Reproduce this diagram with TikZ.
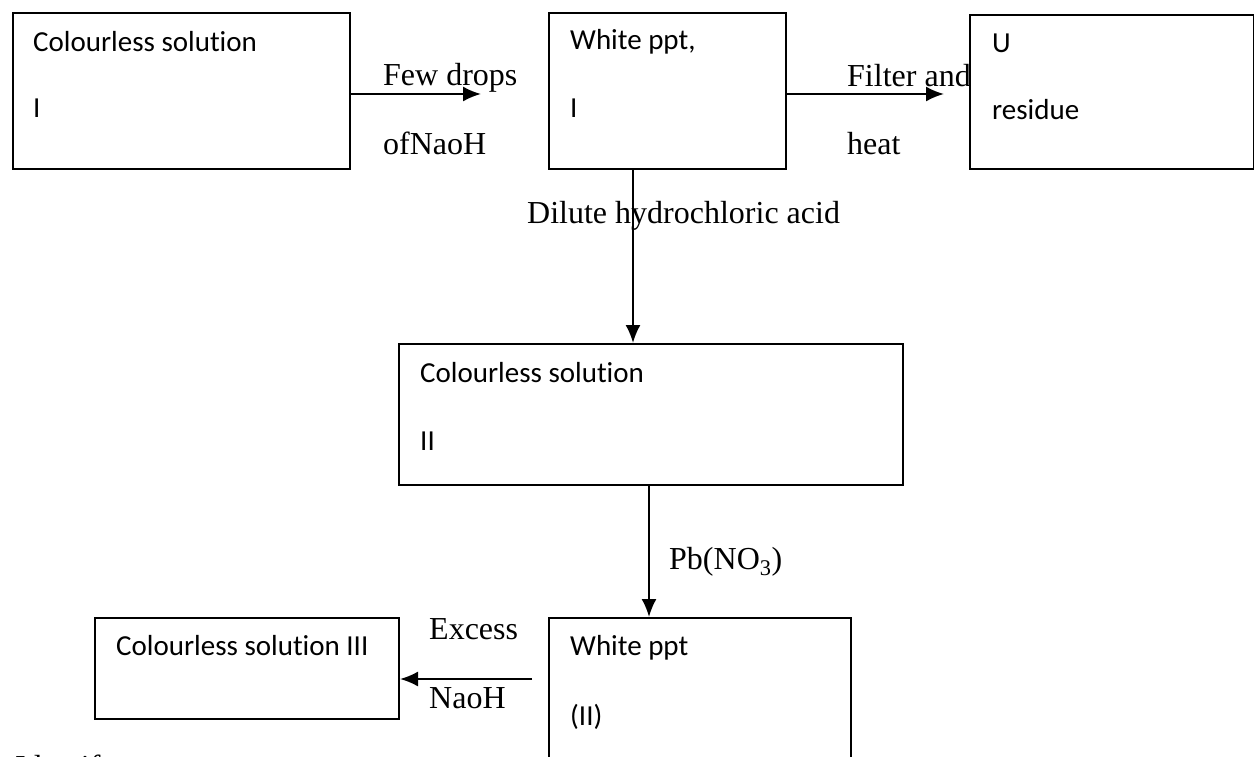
\documentclass[tikz,border=0pt]{standalone}
\usepackage{fontspec}
\setmainfont{Liberation Serif}
\newfontfamily\calib[Ligatures=NoCommon]{Carlito}
\usetikzlibrary{arrows.meta,positioning,calc}

\tikzset{
  stage/.style={draw,line width=2pt,inner sep=0pt,anchor=north west},
  stagetxt/.style={anchor=base west,inner sep=0pt,font=\calib\fontsize{29}{35}\selectfont},
  reagent/.style={anchor=base west,inner sep=0pt,font=\fontsize{32}{38}\selectfont},
  flow/.style={line width=2pt,-{Latex[length=18pt,width=15pt]}}
}

\begin{document}
\begin{tikzpicture}[x=1pt,y=-1pt]
\clip (0,0) rectangle (1254,757);

% boxes
\node [stage,minimum width=337pt,minimum height=156pt] (solA) at (12,12) {};
\node [stage,minimum width=237pt,minimum height=156pt] (pptA) at (548,12) {};
\node [stage,minimum width=284pt,minimum height=154pt] (resU) at (969,14) {};
\node [stage,minimum width=504pt,minimum height=141pt] (solB) at (398,343) {};
\node [stage,minimum width=302pt,minimum height=180pt] (pptB) at (548,617) {};
\node [stage,minimum width=304pt,minimum height=101pt] (solC) at (94,617) {};

% texts in the boxes
\node [stagetxt] (solA1) at (33,52) {Colourless solution};
\node [stagetxt] (solA2) at (33,118) {I};
\node [stagetxt] (pptA1) at (570,50) {White ppt,};
\node [stagetxt] (pptA2) at (570,118) {I};
\node [stagetxt] (resU1) at (992,53) {U};
\node [stagetxt] (resU2) at (992,120) {residue};
\node [stagetxt] (solB1) at (420,382) {Colourless solution};
\node [stagetxt] (solB2) at (420,450) {II};
\node [stagetxt] (pptB1) at (570,655) {White ppt};
\node [stagetxt] (pptB2) at (570,725) {(II)};
\node [stagetxt] (solC1) at (116,655) {Colourless solution III};

% reagents
\node [reagent] (few) at (383,86) {Few drops};
\node [reagent] (ofnaoh) at (383,155) {ofNaoH};
\node [reagent] (filter) at (847,87) {Filter and};
\node [reagent] (heat) at (847,155) {heat};
\node [reagent] (hcl) at (527,223) {Dilute hydrochloric acid};
\node [reagent] (lead) at (669,569) {Pb(NO\textsubscript{3})};
\node [reagent] (excess) at (429,639) {Excess};
\node [reagent] (naoh) at (429,708) {NaoH};
\node [reagent] (ident) at (15,777) {Identify};

% connectors
\coordinate (fewend) at (481,94);
\coordinate (heatend) at (944,94);
\coordinate (hclx) at (633,0);
\coordinate (leadx) at (649,0);
\coordinate (exstart) at (532,679);

\draw [flow] (solA.east |- fewend) -- (fewend);
\draw [flow] (pptA.east |- heatend) -- (heatend);
\draw [flow] (pptA.south -| hclx) -- (solB.north -| hclx);
\draw [flow] (solB.south -| leadx) -- (pptB.north -| leadx);
\draw [flow] (exstart) -- (solC.east |- exstart);

\end{tikzpicture}
\end{document}
